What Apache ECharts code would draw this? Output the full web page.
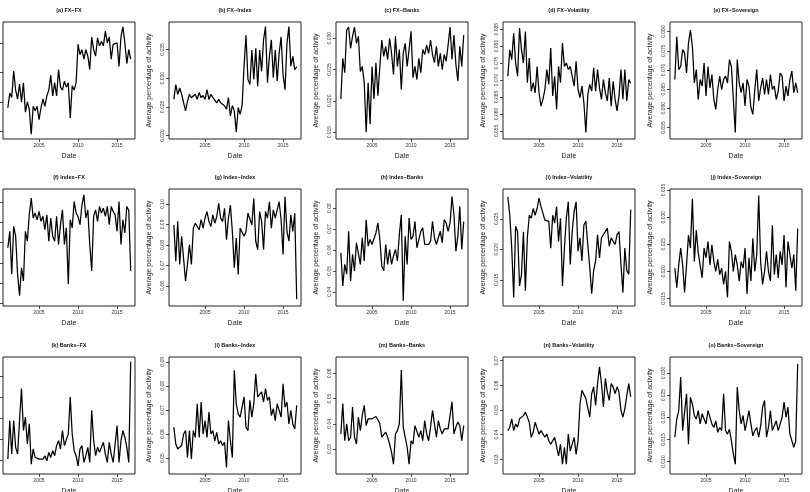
<!DOCTYPE html>
<html>
<head>
<meta charset="utf-8">
<title>Average percentage of activity</title>
<script src="https://cdn.jsdelivr.net/npm/echarts@6.0.0/dist/echarts.min.js"></script>
<style>
    html, body { margin: 0; padding: 0; background: #fff; }
    #chart { width: 810px; height: 492px; }
</style>
</head>
<body>
<div id="chart"></div>
<script>
    // quarterly observations, 2001.00 .. 2016.75
    let startYear = 2001;
    let stepYear = 0.25;
    let xTicks = [2005, 2010, 2015];

    let panelTitles = [
        "(a) FX\u2212FX", "(b) FX\u2212Index", "(c) FX\u2212Banks", "(d) FX\u2212Volatility", "(e) FX\u2212Sovereign",
        "(f) Index\u2212FX", "(g) Index\u2212Index", "(h) Index\u2212Banks", "(i) Index\u2212Volatility", "(j) Index\u2212Sovereign",
        "(k) Banks\u2212FX", "(l) Banks\u2212Index", "(m) Banks\u2212Banks", "(n) Banks\u2212Volatility", "(o) Banks\u2212Sovereign"
    ];

    let fxFx = [
        0.058, 0.063, 0.0615, 0.0705, 0.064, 0.061, 0.066, 0.060,
        0.0665, 0.0565, 0.060, 0.0575, 0.049, 0.0585, 0.057, 0.0585,
        0.054, 0.058, 0.061, 0.0585, 0.062, 0.064, 0.069, 0.062,
        0.0665, 0.062, 0.071, 0.065, 0.064, 0.067, 0.065, 0.0665,
        0.0545, 0.0655, 0.064, 0.0665, 0.0795, 0.076, 0.0777, 0.0745,
        0.0777, 0.0755, 0.071, 0.082, 0.0777, 0.0755, 0.0817, 0.079,
        0.0805, 0.079, 0.084, 0.080, 0.082, 0.0745, 0.0795, 0.079,
        0.080, 0.072, 0.082, 0.0855, 0.080, 0.073, 0.0777, 0.0745
    ];
    let fxIndex = [
        0.0263, 0.0289, 0.0272, 0.0283, 0.0272, 0.0275, 0.0243, 0.0260,
        0.0272, 0.0266, 0.0269, 0.0272, 0.0263, 0.0275, 0.0266, 0.0270,
        0.0263, 0.0280, 0.0263, 0.0272, 0.0266, 0.0269, 0.0257, 0.0263,
        0.0257, 0.0260, 0.0252, 0.0246, 0.0266, 0.0234, 0.0252, 0.0243,
        0.0206, 0.0249, 0.0237, 0.0252, 0.0321, 0.0375, 0.0298, 0.0289,
        0.0349, 0.0298, 0.0352, 0.0286, 0.0349, 0.0312, 0.0367, 0.0390,
        0.0292, 0.0338, 0.0367, 0.0301, 0.0349, 0.0295, 0.0344, 0.0372,
        0.0306, 0.0280, 0.0361, 0.0390, 0.0321, 0.0338, 0.0315, 0.0320
    ];
    let fxBanks = [
        0.0203, 0.0268, 0.0245, 0.0313, 0.0318, 0.0284, 0.0303, 0.0318,
        0.0292, 0.0303, 0.0247, 0.0255, 0.0229, 0.0150, 0.0229, 0.0163,
        0.0255, 0.0203, 0.0261, 0.0208, 0.0255, 0.0297, 0.0271, 0.0287,
        0.0266, 0.0300, 0.0276, 0.0242, 0.0303, 0.0255, 0.0282, 0.0218,
        0.0276, 0.0292, 0.0255, 0.0282, 0.0311, 0.0237, 0.0255, 0.0234,
        0.0268, 0.0245, 0.0282, 0.0274, 0.0289, 0.0276, 0.0297, 0.0274,
        0.0261, 0.0287, 0.0255, 0.0276, 0.0250, 0.0274, 0.0263, 0.0289,
        0.0318, 0.0266, 0.0305, 0.0258, 0.0232, 0.0287, 0.0255, 0.0305
    ];
    let fxVolatility = [
        0.0711, 0.0789, 0.0760, 0.0838, 0.0750, 0.0711, 0.0853, 0.0789,
        0.0750, 0.0843, 0.0692, 0.0765, 0.0667, 0.0692, 0.0662, 0.0740,
        0.0662, 0.0623, 0.0643, 0.0672, 0.0731, 0.0687, 0.0794, 0.0653,
        0.0711, 0.0613, 0.0740, 0.0692, 0.0809, 0.0740, 0.0750, 0.0731,
        0.0740, 0.0745, 0.0682, 0.0755, 0.0672, 0.0648, 0.0682, 0.0633,
        0.0545, 0.0657, 0.0687, 0.0667, 0.0736, 0.0667, 0.0731, 0.0677,
        0.0643, 0.0701, 0.0662, 0.0638, 0.0706, 0.0623, 0.0696, 0.0643,
        0.0609, 0.0653, 0.0731, 0.0643, 0.0731, 0.0638, 0.0701, 0.0690
    ];
    let fxSovereign = [
        0.0675, 0.0787, 0.0701, 0.0709, 0.0753, 0.0744, 0.0692, 0.0770,
        0.0804, 0.0761, 0.0666, 0.0701, 0.0623, 0.0675, 0.0658, 0.0718,
        0.0632, 0.0709, 0.0653, 0.0688, 0.0623, 0.0597, 0.0649, 0.0684,
        0.0649, 0.0675, 0.0684, 0.0666, 0.0727, 0.0709, 0.0709, 0.0537,
        0.0727, 0.0666, 0.0641, 0.0666, 0.0606, 0.0675, 0.0658, 0.0602,
        0.0584, 0.0649, 0.0701, 0.0619, 0.0653, 0.0679, 0.0636, 0.0675,
        0.0636, 0.0688, 0.0649, 0.0658, 0.0623, 0.0645, 0.0692, 0.0684,
        0.0619, 0.0658, 0.0632, 0.0675, 0.0697, 0.0641, 0.0666, 0.0640
    ];
    let indexFx = [
        0.0875, 0.0956, 0.0744, 0.0981, 0.0932, 0.0744, 0.0638, 0.0776,
        0.0711, 0.0956, 0.0907, 0.1038, 0.1120, 0.1022, 0.1046, 0.1013,
        0.1054, 0.1005, 0.1030, 0.0964, 0.1038, 0.0907, 0.1022, 0.0932,
        0.0907, 0.1030, 0.0891, 0.0989, 0.1062, 0.0891, 0.0973, 0.0695,
        0.1013, 0.0973, 0.1103, 0.1046, 0.1030, 0.0989, 0.1087, 0.1136,
        0.1022, 0.1062, 0.0891, 0.0760, 0.1030, 0.1062, 0.1005, 0.1079,
        0.1046, 0.1071, 0.1030, 0.1079, 0.0989, 0.1079, 0.1054, 0.1038,
        0.0956, 0.1103, 0.0891, 0.1013, 0.0948, 0.1079, 0.1060, 0.0760
    ];
    let indexIndex = [
        0.0898, 0.0721, 0.0915, 0.0705, 0.0842, 0.0834, 0.0624, 0.0705,
        0.0802, 0.0705, 0.0882, 0.0906, 0.0890, 0.0874, 0.0923, 0.0882,
        0.0931, 0.0963, 0.0915, 0.0890, 0.0947, 0.0906, 0.0939, 0.1003,
        0.0931, 0.0915, 0.0979, 0.0826, 0.0931, 0.0995, 0.0866, 0.0689,
        0.0834, 0.0656, 0.0882, 0.0882, 0.0842, 0.0866, 0.0955, 0.0963,
        0.0898, 0.1027, 0.0818, 0.0777, 0.0963, 0.0915, 0.0777, 0.0963,
        0.0931, 0.1011, 0.0882, 0.0971, 0.0931, 0.0971, 0.1011, 0.0923,
        0.0753, 0.1035, 0.0866, 0.0818, 0.0947, 0.0866, 0.0955, 0.0535
    ];
    let indexBanks = [
        0.0586, 0.0428, 0.0531, 0.0484, 0.0689, 0.0452, 0.0579, 0.0500,
        0.0634, 0.0634, 0.0531, 0.0658, 0.0547, 0.0744, 0.0618, 0.0650,
        0.0626, 0.0626, 0.0681, 0.0729, 0.0650, 0.0523, 0.0500, 0.0626,
        0.0531, 0.0602, 0.0531, 0.0571, 0.0602, 0.0547, 0.0673, 0.0768,
        0.0357, 0.0665, 0.0531, 0.0752, 0.0650, 0.0665, 0.0736, 0.0610,
        0.0602, 0.0689, 0.0705, 0.0626, 0.0634, 0.0626, 0.0642, 0.0736,
        0.0658, 0.0626, 0.0658, 0.0689, 0.0634, 0.0744, 0.0729, 0.0689,
        0.0729, 0.0855, 0.0768, 0.0594, 0.0665, 0.0808, 0.0602, 0.0736
    ];
    let indexVolatility = [
        0.0286, 0.0256, 0.0202, 0.0121, 0.0238, 0.0229, 0.0140, 0.0159,
        0.0229, 0.0132, 0.0219, 0.0256, 0.0251, 0.0267, 0.0256, 0.0267,
        0.0284, 0.0270, 0.0273, 0.0248, 0.0251, 0.0246, 0.0202, 0.0256,
        0.0243, 0.0270, 0.0213, 0.0251, 0.0140, 0.0202, 0.0251, 0.0278,
        0.0175, 0.0229, 0.0262, 0.0278, 0.0197, 0.0219, 0.0181, 0.0240,
        0.0246, 0.0208, 0.0170, 0.0127, 0.0165, 0.0181, 0.0224, 0.0186,
        0.0219, 0.0219, 0.0229, 0.0235, 0.0205, 0.0219, 0.0213, 0.0208,
        0.0224, 0.0229, 0.0175, 0.0129, 0.0202, 0.0165, 0.0159, 0.0265
    ];
    let indexSovereign = [
        0.0206, 0.0170, 0.0212, 0.0243, 0.0212, 0.0161, 0.0212, 0.0267,
        0.0243, 0.0334, 0.0218, 0.0276, 0.0234, 0.0237, 0.0188, 0.0243,
        0.0225, 0.0255, 0.0212, 0.0249, 0.0218, 0.0200, 0.0222, 0.0194,
        0.0206, 0.0176, 0.0200, 0.0152, 0.0255, 0.0237, 0.0200, 0.0231,
        0.0212, 0.0182, 0.0218, 0.0206, 0.0243, 0.0158, 0.0225, 0.0182,
        0.0261, 0.0200, 0.0231, 0.0340, 0.0218, 0.0176, 0.0200, 0.0237,
        0.0200, 0.0182, 0.0285, 0.0194, 0.0231, 0.0188, 0.0237, 0.0212,
        0.0267, 0.0170, 0.0255, 0.0231, 0.0206, 0.0231, 0.0164, 0.0279
    ];
    let banksFx = [
        0.0205, 0.0389, 0.0229, 0.0389, 0.0261, 0.0229, 0.0389, 0.0541,
        0.0341, 0.0405, 0.0277, 0.0373, 0.0181, 0.0253, 0.0213, 0.0221,
        0.0205, 0.0213, 0.0205, 0.0221, 0.0197, 0.0237, 0.0213, 0.0245,
        0.0221, 0.0269, 0.0293, 0.0253, 0.0341, 0.0269, 0.0261, 0.0325,
        0.0501, 0.0325, 0.0245, 0.0221, 0.0173, 0.0253, 0.0269, 0.0189,
        0.0221, 0.0261, 0.0189, 0.0437, 0.0293, 0.0221, 0.0261, 0.0237,
        0.0261, 0.0285, 0.0229, 0.0189, 0.0285, 0.0229, 0.0189, 0.0277,
        0.0365, 0.0189, 0.0293, 0.0341, 0.0309, 0.0261, 0.0189, 0.0669
    ];
    let banksIndex = [
        0.0628, 0.0559, 0.0538, 0.0545, 0.0552, 0.0600, 0.0614, 0.0503,
        0.0614, 0.0496, 0.0614, 0.0586, 0.0726, 0.0586, 0.0733, 0.0600,
        0.0656, 0.0586, 0.0691, 0.0600, 0.0614, 0.0572, 0.0607, 0.0559,
        0.0572, 0.0552, 0.0566, 0.0461, 0.0656, 0.0572, 0.0503, 0.0865,
        0.0726, 0.0684, 0.0670, 0.0663, 0.0754, 0.0628, 0.0614, 0.0740,
        0.0670, 0.0726, 0.0850, 0.0754, 0.0754, 0.0775, 0.0733, 0.0789,
        0.0740, 0.0754, 0.0677, 0.0705, 0.0656, 0.0726, 0.0733, 0.0670,
        0.0809, 0.0712, 0.0733, 0.0642, 0.0698, 0.0642, 0.0621, 0.0719
    ];
    let banksBanks = [
        0.0360, 0.0480, 0.0333, 0.0400, 0.0333, 0.0347, 0.0467, 0.0347,
        0.0320, 0.0427, 0.0373, 0.0433, 0.0473, 0.0393, 0.0420, 0.0427,
        0.0420, 0.0420, 0.0429, 0.0416, 0.0400, 0.0347, 0.0353, 0.0367,
        0.0347, 0.0320, 0.0287, 0.0240, 0.0360, 0.0373, 0.0400, 0.0613,
        0.0387, 0.0347, 0.0307, 0.0240, 0.0333, 0.0320, 0.0393, 0.0387,
        0.0347, 0.0373, 0.0333, 0.0413, 0.0360, 0.0333, 0.0387, 0.0453,
        0.0400, 0.0347, 0.0413, 0.0380, 0.0360, 0.0380, 0.0373, 0.0380,
        0.0373, 0.0487, 0.0360, 0.0387, 0.0407, 0.0393, 0.0333, 0.0393
    ];
    let banksVolatility = [
        0.0416, 0.0430, 0.0464, 0.0416, 0.0443, 0.0430, 0.0464, 0.0471,
        0.0477, 0.0491, 0.0471, 0.0450, 0.0389, 0.0409, 0.0450, 0.0443,
        0.0402, 0.0416, 0.0416, 0.0389, 0.0402, 0.0375, 0.0361, 0.0375,
        0.0389, 0.0389, 0.0314, 0.0361, 0.0280, 0.0348, 0.0280, 0.0402,
        0.0334, 0.0334, 0.0389, 0.0320, 0.0375, 0.0525, 0.0580, 0.0587,
        0.0546, 0.0539, 0.0471, 0.0566, 0.0594, 0.0518, 0.0607, 0.0675,
        0.0607, 0.0512, 0.0628, 0.0573, 0.0539, 0.0607, 0.0594, 0.0566,
        0.0594, 0.0573, 0.0498, 0.0471, 0.0505, 0.0559, 0.0607, 0.0553
    ];
    let banksSovereign = [
        0.0155, 0.0196, 0.0215, 0.0291, 0.0170, 0.0170, 0.0253, 0.0139,
        0.0245, 0.0230, 0.0204, 0.0196, 0.0215, 0.0185, 0.0208, 0.0196,
        0.0185, 0.0215, 0.0215, 0.0185, 0.0177, 0.0192, 0.0166, 0.0177,
        0.0170, 0.0253, 0.0170, 0.0162, 0.0173, 0.0147, 0.0117, 0.0094,
        0.0268, 0.0215, 0.0185, 0.0204, 0.0170, 0.0192, 0.0215, 0.0185,
        0.0158, 0.0170, 0.0177, 0.0155, 0.0181, 0.0223, 0.0238, 0.0155,
        0.0177, 0.0215, 0.0170, 0.0173, 0.0192, 0.0170, 0.0173, 0.0200,
        0.0234, 0.0200, 0.0223, 0.0162, 0.0147, 0.0132, 0.0147, 0.0321
    ];

    let panelValues = [
        fxFx, fxIndex, fxBanks, fxVolatility, fxSovereign,
        indexFx, indexIndex, indexBanks, indexVolatility, indexSovereign,
        banksFx, banksIndex, banksBanks, banksVolatility, banksSovereign
    ];

    // y tick labels per panel (first column's labels fall outside the picture)
    let yTicks = [
        [0.05, 0.06, 0.07, 0.08],
        [0.020, 0.025, 0.030, 0.035],
        [0.015, 0.020, 0.025, 0.030],
        [0.055, 0.060, 0.065, 0.070, 0.075, 0.080, 0.085],
        [0.055, 0.060, 0.065, 0.070, 0.075, 0.080],
        [0.06, 0.07, 0.08, 0.09, 0.10, 0.11],
        [0.06, 0.07, 0.08, 0.09, 0.10],
        [0.04, 0.05, 0.06, 0.07, 0.08],
        [0.015, 0.020, 0.025],
        [0.015, 0.020, 0.025, 0.030, 0.035],
        [0.02, 0.03, 0.04, 0.05, 0.06],
        [0.05, 0.06, 0.07, 0.08, 0.09],
        [0.02, 0.03, 0.04, 0.05, 0.06],
        [0.03, 0.04, 0.05, 0.06, 0.07],
        [0.010, 0.015, 0.020, 0.025, 0.030]
    ];
    let yDigits = [2, 3, 3, 3, 3, 2, 2, 2, 3, 3, 2, 2, 2, 2, 3];
    let yRanges = [
        [0.0474, 0.0871], [0.0194, 0.0398], [0.0139, 0.0326], [0.0526, 0.0871], [0.0520, 0.0825],
        [0.0587, 0.1165], [0.0502, 0.1073], [0.0332, 0.0891], [0.0107, 0.0299], [0.0136, 0.0352],
        [0.0134, 0.0691], [0.0434, 0.0920], [0.0201, 0.0665], [0.0240, 0.0715], [0.0072, 0.0336]
    ];

    let colLeft = [3, 169, 336, 503, 670];
    let rowTop = [22, 189, 357];
    let boxW = 132;
    let boxH = 117;
    let fontName = "Liberation Sans, Arial, Helvetica, sans-serif";

    let grids = [], xAxes = [], yAxes = [], series = [], texts = [];
    panelValues.forEach(function (vals, k) {
        let left = colLeft[k % 5];
        let top = rowTop[Math.floor(k / 5)];
        grids.push({
            left: left, top: top, width: boxW, height: boxH,
            outerBoundsMode: "none", containLabel: false,
            show: true, borderColor: "#222", borderWidth: 1, backgroundColor: "transparent"
        });
        xAxes.push({
            gridIndex: k, type: "value", min: 2000.38, max: 2017.3,
            axisLine: { show: false },
            axisTick: { show: true, length: 3, customValues: xTicks, lineStyle: { color: "#222", width: 0.8 } },
            axisLabel: {
                customValues: xTicks, fontSize: 5, margin: 4, color: "#333", fontFamily: fontName,
                formatter: function (v) { return String(Math.round(v)); }
            },
            splitLine: { show: false },
            name: "Date", nameLocation: "middle", nameGap: 14,
            nameTextStyle: { fontSize: 7, color: "#222", fontFamily: fontName }
        });
        let d = yDigits[k];
        yAxes.push({
            gridIndex: k, type: "value", min: yRanges[k][0], max: yRanges[k][1],
            axisLine: { show: false },
            axisTick: { show: true, length: 3, customValues: yTicks[k], lineStyle: { color: "#222", width: 0.8 } },
            axisLabel: {
                customValues: yTicks[k], rotate: 90, fontSize: 5, margin: 4, color: "#333", fontFamily: fontName,
                formatter: function (v) { return v.toFixed(d); }
            },
            splitLine: { show: false },
            name: "Average percentage of activity", nameLocation: "middle", nameGap: 16,
            nameTextStyle: { fontSize: 7, color: "#222", fontFamily: fontName }
        });
        series.push({
            type: "line", xAxisIndex: k, yAxisIndex: k,
            data: vals.map(function (v, i) { return [startYear + i * stepYear, v]; }),
            showSymbol: false, silent: true,
            lineStyle: { color: "#000", width: 1.25 }
        });
        texts.push({
            type: "text", x: left + boxW / 2, y: top - 12,
            style: {
                text: panelTitles[k], fill: "#111", textAlign: "center", textVerticalAlign: "middle",
                font: "bold 5.5px " + fontName
            }
        });
    });

    let chart = echarts.init(document.getElementById("chart"), null, { renderer: "canvas" });
    chart.setOption({
        animation: false,
        backgroundColor: "#fff",
        grid: grids,
        xAxis: xAxes,
        yAxis: yAxes,
        series: series,
        graphic: texts
    });
</script>
</body>
</html>
